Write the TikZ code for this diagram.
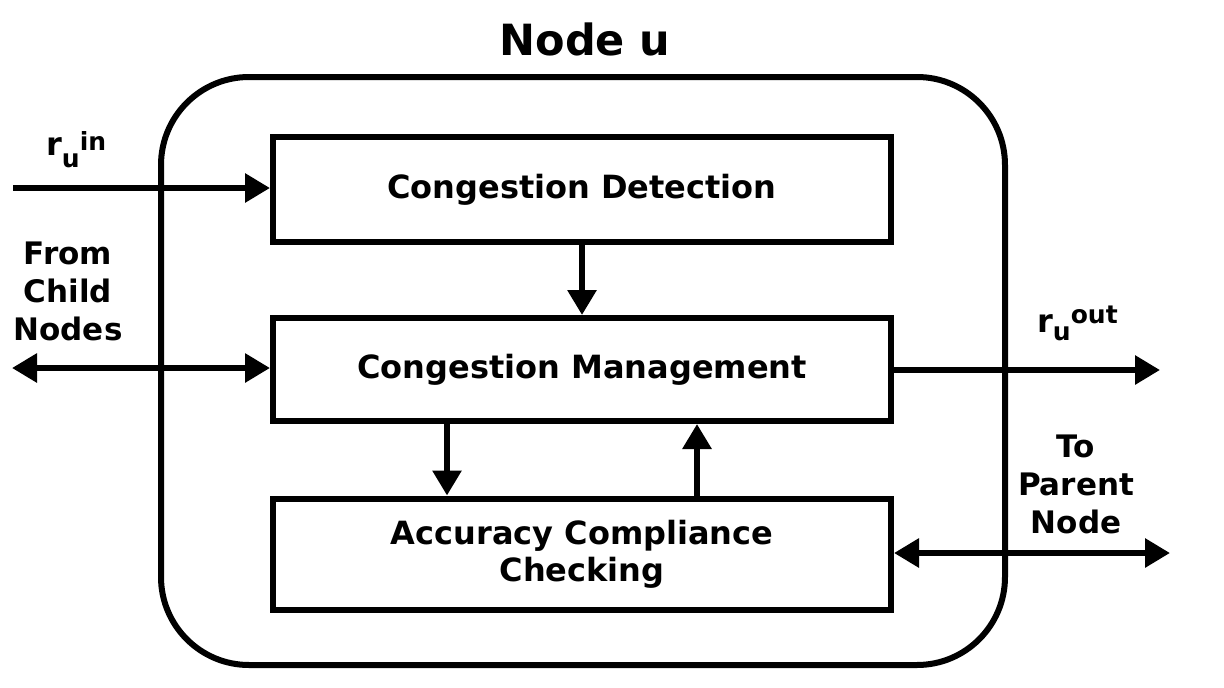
\documentclass[tikz,border=0pt]{standalone}
\usepackage{fontspec}
\setmainfont{DejaVu Sans}
\usetikzlibrary{arrows.meta}
\begin{document}
\begin{tikzpicture}[x=1pt,y=-1pt,
  blk/.style={draw,line width=6pt,minimum width=618pt,inner sep=0pt,align=center,
    font=\fontsize{32}{37}\selectfont\bfseries},
  arr/.style={line width=6pt,-{Triangle[length=25pt,width=28pt]}},
  darr/.style={line width=6pt,{Triangle[length=25pt,width=28pt]}-{Triangle[length=25pt,width=28pt]}},
  lbl/.style={align=center,font=\fontsize{31}{38}\selectfont\bfseries,inner sep=0pt},
  rlbl/.style={anchor=base west,inner sep=0pt,font=\fontsize{32}{38}\selectfont\bfseries}]
\newcommand{\scr}[1]{{\fontsize{25}{30}\selectfont #1}}
\useasboundingbox (0,0) rectangle (1224,688);
\node[draw,line width=6pt,rounded corners=88pt,minimum width=844pt,minimum height=588pt,inner sep=0pt] (outer) at (583,371) {};
\node[anchor=base,inner sep=0pt,font=\fontsize{43}{50}\selectfont\bfseries] (title) at (585,55) {Node u};
\node[blk,minimum height=105pt] (det) at (582,189.5) {Congestion Detection};
\node[blk,minimum height=103pt] (man) at (582,369.5) {Congestion Management};
\node[blk,minimum height=111pt] (acc) at (582,554) {Accuracy Compliance\\Checking};
\draw[arr] (det.south) -- (man.north);
\draw[arr] ([xshift=-135pt]man.south) -- ([xshift=-135pt]acc.north);
\draw[arr] ([xshift=115pt]acc.north) -- ([xshift=115pt]man.south);
\coordinate (inL) at (13,188);
\draw[arr] (inL) -- (inL -| det.west);
\coordinate (chL) at (12,368);
\draw[darr] (chL) -- (chL -| man.west);
\coordinate (outR) at (1160,370);
\draw[arr] (outR -| man.east) -- (outR);
\coordinate (parR) at (1170,553);
\draw[darr] (parR -| acc.east) -- (parR);
\node[rlbl] (rin) at (46,155) {r\raisebox{-12pt}{\scr{u}}\raisebox{5pt}{\scr{in}}};
\node[rlbl] (rout) at (1037,332) {r\raisebox{-8pt}{\scr{u}}\raisebox{9pt}{\scr{out}}};
\node[lbl] (child) at (68,291) {From\\Child\\Nodes};
\node[lbl] (parent) at (1076,484) {To\\Parent\\Node};
\end{tikzpicture}
\end{document}
